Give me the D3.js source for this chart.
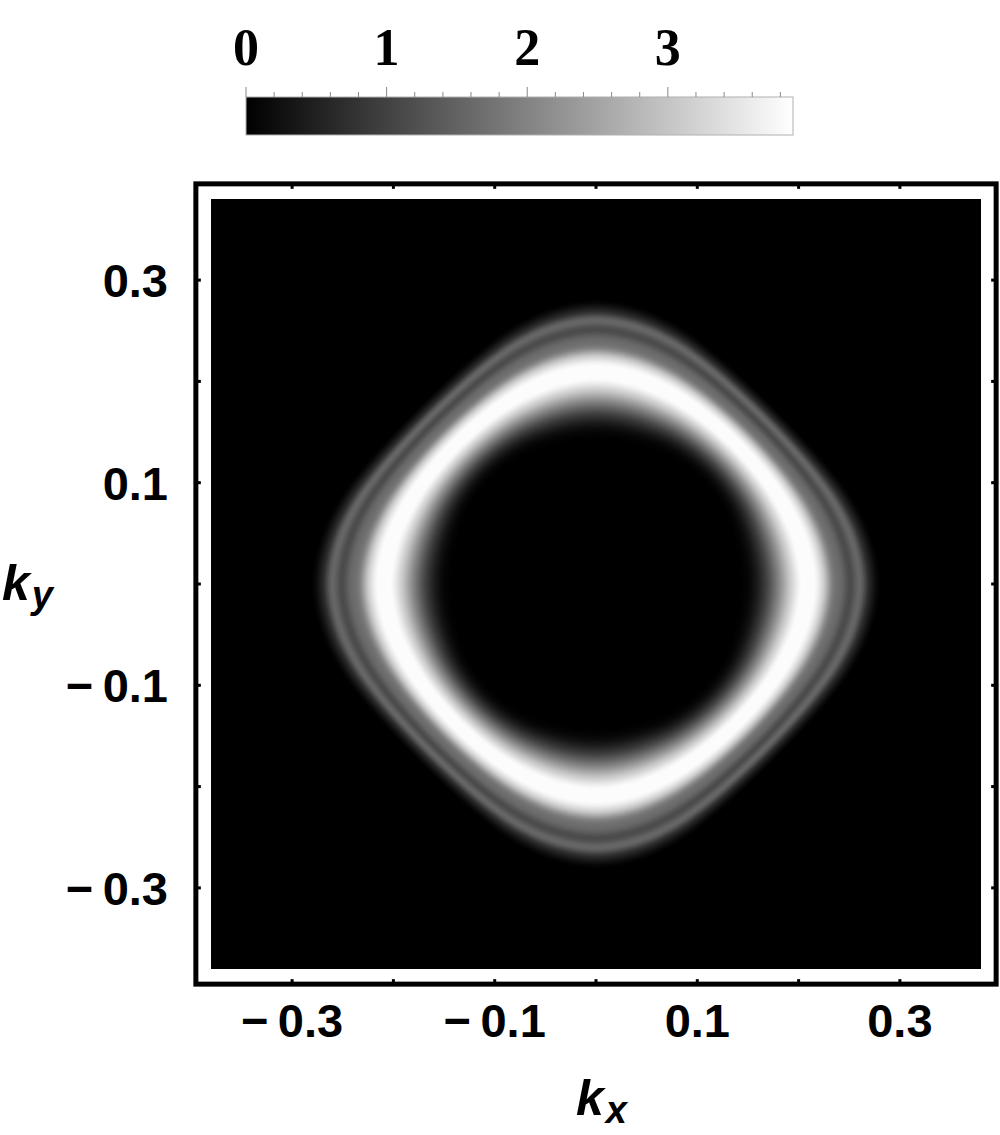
<!DOCTYPE html>
<html>
<head>
<meta charset="utf-8">
<script src="https://cdn.jsdelivr.net/npm/d3@7"></script>
<style>
  body { margin: 0; background: #fff; }
</style>
</head>
<body>
<script>
// ring shape: radius of the bright band vs angle from the kx axis (degrees, folded to 0-45)
let ringAngle = [0, 9, 18, 27, 36, 45];
let ringRadius = [0.210, 0.208, 0.204, 0.200, 0.197, 0.196];
// relative ring width at the same angles (narrower toward the diagonals)
let ringWidth = [1, 0.97, 0.9, 0.81, 0.75, 0.73];

// intensity across the ring, radial offset from the bright band (k units, along the axes)
let profileOffset = [-0.07, -0.056, -0.043, -0.03, -0.017, -0.006, 0.004, 0.014, 0.024, 0.033, 0.041, 0.05, 0.06, 0.072];
let profileValue  = [0, 0.2, 0.9, 2.0, 3.2, 3.85, 3.85, 3.2, 1.9, 1.55, 1.15, 1.55, 0.6, 0];

let axisTicks = [-0.3, -0.1, 0.1, 0.3];
let frameTicks = [-0.3, -0.2, -0.1, 0, 0.1, 0.2, 0.3];
let barTicks = [0, 1, 2, 3];
let barMax = 3.89;
let plotRange = 0.38;
let frameRange = 0.395;

let width = 1000;
let height = 1135;

let x = d3.scaleLinear().domain([-0.1, 0.1]).range([494.7, 697.3]);
let y = d3.scaleLinear().domain([-0.1, 0.1]).range([685.3, 482.7]);

let svg = d3.select("body")
            .append("svg")
            .attr("width", width)
            .attr("height", height)
            .style("display", "block");

// monotone cubic through sampled points, flat at both ends
function smooth(xs, ys) {
  let n = xs.length, dl = [], m = [];
  for (let i = 0; i < n - 1; i++) dl[i] = (ys[i + 1] - ys[i]) / (xs[i + 1] - xs[i]);
  m[0] = 0; m[n - 1] = 0;
  for (let i = 1; i < n - 1; i++) m[i] = dl[i - 1] * dl[i] <= 0 ? 0 : (dl[i - 1] + dl[i]) / 2;
  for (let i = 0; i < n - 1; i++) {
    if (dl[i] === 0) { m[i] = 0; m[i + 1] = 0; continue; }
    let a = m[i] / dl[i], b = m[i + 1] / dl[i], s = a * a + b * b;
    if (s > 9) { let t = 3 / Math.sqrt(s); m[i] = t * a * dl[i]; m[i + 1] = t * b * dl[i]; }
  }
  return function(v) {
    if (v <= xs[0]) return ys[0];
    if (v >= xs[n - 1]) return ys[n - 1];
    let i = d3.bisectRight(xs, v) - 1;
    let h = xs[i + 1] - xs[i], t = (v - xs[i]) / h;
    let t2 = t * t, t3 = t2 * t;
    return (2 * t3 - 3 * t2 + 1) * ys[i] + (t3 - 2 * t2 + t) * h * m[i]
         + (-2 * t3 + 3 * t2) * ys[i + 1] + (t3 - t2) * h * m[i + 1];
  };
}

// density image drawn on a canvas, then placed in the svg
let radiusAt = smooth(ringAngle, ringRadius);
let widthAt = smooth(ringAngle, ringWidth);
let profile = smooth(profileOffset, profileValue);
let gray = d3.scaleLinear().domain([0, barMax]).range([0, 255]).clamp(true);

let x0 = Math.round(x(-plotRange)), x1 = Math.round(x(plotRange));
let y0 = Math.round(y(plotRange)), y1 = Math.round(y(-plotRange));
let cw = x1 - x0, ch = y1 - y0;
let canvas = document.createElement("canvas");
canvas.width = cw;
canvas.height = ch;
let ctx = canvas.getContext("2d");
let img = ctx.createImageData(cw, ch);
for (let j = 0; j < ch; j++) {
  let ky = y.invert(y0 + j + 0.5);
  for (let i = 0; i < cw; i++) {
    let kx = x.invert(x0 + i + 0.5);
    let a = Math.atan2(Math.abs(ky), Math.abs(kx)) * 180 / Math.PI;
    if (a > 45) a = 90 - a;
    let d = (Math.hypot(kx, ky) - radiusAt(a)) / widthAt(a);
    let g = Math.round(gray(Math.max(0, profile(d))));
    let k = (j * cw + i) * 4;
    img.data[k] = g; img.data[k + 1] = g; img.data[k + 2] = g; img.data[k + 3] = 255;
  }
}
ctx.putImageData(img, 0, 0);

svg.append("image")
   .attr("x", x0)
   .attr("y", y0)
   .attr("width", cw)
   .attr("height", ch)
   .attr("href", canvas.toDataURL());

// outer frame
let fl = x(-frameRange), fr = x(frameRange), ft = y(frameRange), fb = y(-frameRange);
svg.append("rect")
   .attr("x", fl).attr("y", ft)
   .attr("width", fr - fl).attr("height", fb - ft)
   .attr("fill", "none")
   .attr("stroke", "#000")
   .attr("stroke-width", 5);

// tiny ticks on all four sides of the frame
let tk = svg.append("g").attr("stroke", "#000").attr("stroke-width", 3);
frameTicks.forEach(function(d) {
  tk.append("line").attr("x1", x(d)).attr("x2", x(d)).attr("y1", fb - 2).attr("y2", fb - 5);
  tk.append("line").attr("x1", x(d)).attr("x2", x(d)).attr("y1", ft + 2).attr("y2", ft + 5);
  tk.append("line").attr("y1", y(d)).attr("y2", y(d)).attr("x1", fl + 2).attr("x2", fl + 5);
  tk.append("line").attr("y1", y(d)).attr("y2", y(d)).attr("x1", fr - 2).attr("x2", fr - 5);
});

// axis tick labels
let fmt = d => (d < 0 ? "\u2212\u2009" : "") + Math.abs(d).toFixed(1);
svg.selectAll(".xl")
   .data(axisTicks)
   .enter().append("text")
   .attr("x", d => x(d))
   .attr("y", 1037)
   .attr("text-anchor", "middle")
   .style("font", "bold 47px 'Liberation Sans', Arial, sans-serif")
   .text(fmt);
svg.selectAll(".yl")
   .data(axisTicks)
   .enter().append("text")
   .attr("x", 168)
   .attr("y", d => y(d) + 17)
   .attr("text-anchor", "end")
   .style("font", "bold 47px 'Liberation Sans', Arial, sans-serif")
   .text(fmt);

// axis titles
let kx = svg.append("text")
            .attr("x", 576).attr("y", 1115)
            .style("font", "italic bold 50px 'Liberation Sans', Arial, sans-serif");
kx.append("tspan").text("k");
kx.append("tspan").attr("dx", 2).attr("dy", 8).style("font-size", "38px").text("x");
let ky = svg.append("text")
            .attr("x", 2).attr("y", 600)
            .style("font", "italic bold 50px 'Liberation Sans', Arial, sans-serif");
ky.append("tspan").text("k");
ky.append("tspan").attr("dx", 2).attr("dy", 8).style("font-size", "38px").text("y");

// colour bar
let c = d3.scaleLinear().domain([0, barMax]).range([246, 793]);
let grad = svg.append("defs").append("linearGradient").attr("id", "bar");
grad.append("stop").attr("offset", "0%").attr("stop-color", "#000");
grad.append("stop").attr("offset", "100%").attr("stop-color", "#fff");
svg.append("rect")
   .attr("x", c(0)).attr("y", 97)
   .attr("width", c(barMax) - c(0)).attr("height", 38)
   .attr("fill", "url(#bar)")
   .attr("stroke", "#b0b0b0").attr("stroke-width", 1);
svg.selectAll(".ct")
   .data(d3.range(0, barMax, 0.2))
   .enter().append("line")
   .attr("x1", d => c(d)).attr("x2", d => c(d))
   .attr("y1", 97)
   .attr("y2", d => Math.abs(d - Math.round(d)) < 1e-6 ? 87 : 92)
   .attr("stroke", "#888").attr("stroke-width", 1);
svg.selectAll(".cl")
   .data(barTicks)
   .enter().append("text")
   .attr("x", d => c(d))
   .attr("y", 65)
   .attr("text-anchor", "middle")
   .style("font", "bold 52px 'Liberation Serif', 'Times New Roman', serif")
   .text(d => d);
</script>
</body>
</html>
